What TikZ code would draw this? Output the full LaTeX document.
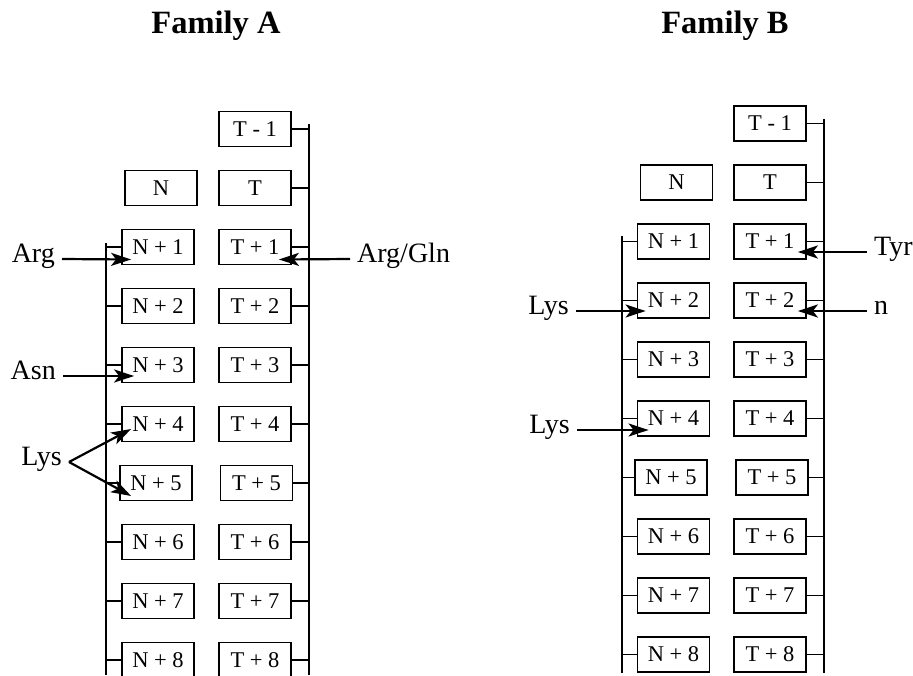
\documentclass[tikz,border=0pt]{standalone}
\usepackage{fontspec}
\setmainfont{Liberation Serif}
\usetikzlibrary{calc}
\usetikzlibrary{arrows.meta}

\tikzset{
	res/.style={draw,line width=1.8pt,minimum width=72pt,minimum height=35pt,inner sep=0pt,font=\fontsize{22.5}{22.5}\selectfont},
	aa/.style={font=\fontsize{28}{28}\selectfont,text height=0.66em,text depth=0pt,inner ysep=0pt,inner xsep=7pt},
	fam/.style={font=\bfseries\fontsize{32.5}{32.5}\selectfont},
	rail/.style={line width=1.3pt},
	hit/.style={line width=2.2pt,-{Stealth[length=20pt,width=13pt,inset=5pt]}},
}

\begin{document}
\begin{tikzpicture}[x=1pt,y=-1pt]
		\useasboundingbox (0,0) rectangle (913,675);
		\clip (0,0) rectangle (913,675);
		% Family A
		\node[fam] (famA) at (216,26) {Family A};
		\node[res] (aTm) at (255,129) {T - 1};
		\node[res] (aN) at (161,188) {N};
		\node[res] (aT) at (255,188) {T};
		\foreach \i/\dn/\dt in {1/0/0,2/0/0,3/0/0,4/0/0,5/-2/1.5,6/0/0,7/0/0,8/0/0}
			{
			\node[res] (aN\i) at (158+\dn,188+59*\i) {N + \i};
			\node[res] (aT\i) at (255+\dt,188+59*\i) {T + \i};
			}
		\coordinate (aRtop) at (309,124);
		\coordinate (aRbot) at (309,675);
		\coordinate (aLtop) at (106,243);
		\coordinate (aLbot) at (106,675);
		\draw[rail] (aRtop) -- (aRbot)
			  (aLtop) -- (aLbot);
		\foreach \n in {aTm,aT,aT1,aT2,aT3,aT4,aT5,aT6,aT7,aT8}
			\draw[rail] (\n.east) -- (\n.east -| aRtop);
		\foreach \n in {aN1,aN2,aN3,aN4,aN5,aN6,aN7,aN8}
			\draw[rail] (\n.west) -- (\n.west -| aLtop);
		\node[aa,anchor=east] (argA) at (62,259) {Arg};
		\node[aa,anchor=west] (argglnA) at (350,259) {Arg/Gln};
		\node[aa,anchor=east] (asnA) at (63,376) {Asn};
		\node[aa,anchor=east] (lysA) at (69,462) {Lys};
		\draw[hit] (argA.east) -- ($(aN1.west)+(10,12.5)$);
		\draw[hit] (argglnA.west) -- ($(aT1.east)+(-13,12.5)$);
		\draw[hit] (asnA.east) -- ($(aN3.west)+(13,11)$);
		\draw[hit] (lysA.east) -- ($(aN4.west)+(10,5)$);
		\draw[hit] (lysA.east) -- ($(aN5.west)+(12,13)$);
		% Family B
		\node[fam] (famB) at (725,26) {Family B};
		\node[res] (bTm) at (770,123.5) {T - 1};
		\node[res] (bN) at (676.5,182.5) {N};
		\node[res] (bT) at (770,182.5) {T};
		\foreach \i/\dn/\dt in {1/0/0,2/0/0,3/0/0,4/0/0,5/-2.5/2,6/0/0,7/0/0,8/0/0}
			{
			\node[res] (bN\i) at (673.5+\dn,182.5+59*\i) {N + \i};
			\node[res] (bT\i) at (770+\dt,182.5+59*\i) {T + \i};
			}
		\coordinate (bRtop) at (824,119);
		\coordinate (bRbot) at (824,673);
		\coordinate (bLtop) at (622,236);
		\coordinate (bLbot) at (622,673);
		\draw[rail] (bRtop) -- (bRbot)
			  (bLtop) -- (bLbot);
		\foreach \n in {bTm,bT,bT1,bT2,bT3,bT4,bT5,bT6,bT7,bT8}
			\draw[rail] (\n.east) -- (\n.east -| bRtop);
		\foreach \n in {bN1,bN2,bN3,bN4,bN5,bN6,bN7,bN8}
			\draw[rail] (\n.west) -- (\n.west -| bLtop);
		\node[aa,anchor=east] (lysB) at (576,311) {Lys};
		\node[aa,anchor=east] (lysC) at (577,430) {Lys};
		\node[aa,anchor=west] (tyrB) at (867,252) {Tyr};
		\node[aa,anchor=west] (nB) at (867,311) {n};
		\draw[hit] (lysB.east) -- ($(bN2.west)+(9,10.5)$);
		\draw[hit] (lysC.east) -- ($(bN4.west)+(12,11.5)$);
		\draw[hit] (tyrB.west) -- ($(bT1.east)+(-9,10.5)$);
		\draw[hit] (nB.west) -- ($(bT2.east)+(-9,10.5)$);
	\end{tikzpicture}
\end{document}
